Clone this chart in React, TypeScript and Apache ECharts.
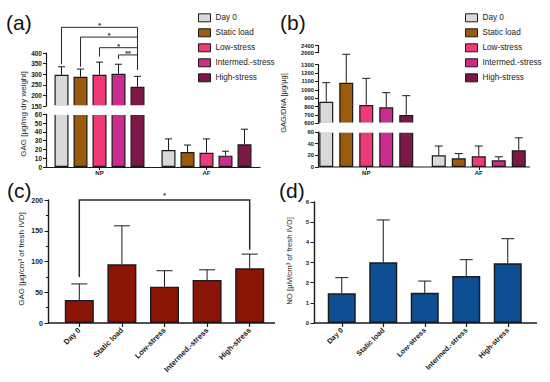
import React, { useEffect, useRef } from 'react';
import * as echarts from 'echarts';

const FONT = '"Liberation Sans", Arial, Helvetica, sans-serif';
const AX = '#1a1a1a';

const groups = ['Day 0', 'Static load', 'Low-stress', 'Intermed.-stress', 'High-stress'];
const regions = ['NP', 'AF'];
const groupColors = ['#d9d9d9', '#9a5b0c', '#ee3a78', '#cb2b8c', '#7b1848'];

// (a) GAG [µg/mg dry weight]
const aNPMean = [297, 288, 297, 302, 241];
const aNPUpper = [335, 324, 357, 347, 290];
const aAFMean = [19.4, 17, 16.3, 12.9, 25.8];
const aAFUpper = [32, 25, 32, 18, 43];
const aSigFrom = [0, 1, 2, 3];
const aSigTo = [4, 4, 4, 4];
const aSigLevel = [521, 475, 425, 391];
const aSigLeftDrop = [347, 335, 383, 372];
const aSigRightDrop = [320, 320, 320, 320];
const aSigLabel = ['*', '*', '*', '**'];

// (b) GAG/DNA [µg/µg]
const bNPMean = [858, 1085, 819, 791, 699];
const bNPUpper = [1085, 1910, 1137, 966, 930];
const bAFMean = [20, 15, 18.5, 11.5, 28.5];
const bAFUpper = [36, 23, 36, 17.5, 50];

// (c) GAG [µg/cm³ of fresh IVD]
const cMean = [37.5, 95.5, 59, 70, 89];
const cUpper = [63.5, 158, 85, 86.5, 112];
const cSigFrom = [0];
const cSigTo = [4];
const cSigLevel = [200];
const cSigLeftDrop = [75];
const cSigRightDrop = [119];
const cSigLabel = ['*'];

// (d) NO [µM/cm³ of fresh IVD]
const dMean = [1.47, 3.01, 1.5, 2.33, 2.96];
const dUpper = [2.25, 5.11, 2.08, 3.14, 4.18];

// axis ranges of broken-axis segments [min, max, interval]
const aUpperRange = [150, 400, 50];
const aLowerRange = [0, 60, 10];
const bTopRange = [2000, 2400, 400];
const bMidRange = [600, 1300, 100];
const bLowRange = [0, 60, 20];
const cRange = [0, 200, 50];
const dRange = [0, 6, 1];

const panelData: any = {
  a: { npMean: aNPMean, npUpper: aNPUpper, afMean: aAFMean, afUpper: aAFUpper },
  b: { npMean: bNPMean, npUpper: bNPUpper, afMean: bAFMean, afUpper: bAFUpper },
};

const panelLayout: any = {
  a: { left: 46, width: 214, yOffset: 0, barWidth: 14, gap: 5, cap: 7, labelSize: 6.5, axisLine: true, coverStart: 3 },
  b: { left: 310, width: 225, yOffset: -8, barWidth: 14, gap: 6, cap: 8, labelSize: 5.8, axisLine: false, coverStart: 9.5 },
};

const segments = [
  { panel: 'a', top: 53, height: 53, range: aUpperRange, belowMax: aLowerRange[1], gapBelow: 8.3, bottom: false, cover: true },
  { panel: 'a', top: 114.3, height: 52.7, range: aLowerRange, belowMax: -Infinity, gapBelow: 0, bottom: true, cover: false },
  { panel: 'b', top: 45.7, height: 7, range: bTopRange, belowMax: bMidRange[1], gapBelow: 12, bottom: false, cover: false },
  { panel: 'b', top: 64.7, height: 58.6, range: bMidRange, belowMax: bLowRange[1], gapBelow: 8.7, bottom: false, cover: true },
  { panel: 'b', top: 132, height: 35, range: bLowRange, belowMax: -Infinity, gapBelow: 0, bottom: true, cover: false },
];

function errRender(min: number, max: number, belowMax: number, gapBelow: number, xShift: number, cap: number) {
  return (params: any, api: any) => {
    const cat = api.value(0);
    const m = api.value(1);
    const u = api.value(2);
    if (m > max) return null;
    if (u <= belowMax) return null;
    const cs = params.coordSys;
    const x = api.coord([cat, min])[0] + xShift;
    const yBase = m < min ? cs.y + cs.height + gapBelow : api.coord([cat, m])[1];
    const yTop = u > max ? cs.y : api.coord([cat, u])[1];
    const st = { stroke: AX, lineWidth: 1 };
    const children: any[] = [{ type: 'line', shape: { x1: x, y1: yBase, x2: x, y2: yTop }, style: st }];
    if (u <= max) {
      children.push({ type: 'line', shape: { x1: x - cap / 2, y1: yTop, x2: x + cap / 2, y2: yTop }, style: st });
    }
    return { type: 'group', children };
  };
}

function coverRender(start: number, gapBelow: number) {
  return (params: any) => {
    const cs = params.coordSys;
    return {
      type: 'rect',
      silent: true,
      shape: { x: cs.x + start, y: cs.y + cs.height - 0.8, width: cs.width - start + 2, height: gapBelow + 1.6 },
      style: { fill: '#ffffff' },
    };
  };
}

function sigRender(labels: string[], step: number, lw: number, fs: number, dy: number) {
  return (params: any, api: any) => {
    const k = params.dataIndex;
    const cat = api.value(0);
    const lvl = api.value(1);
    const f = api.value(2);
    const t = api.value(3);
    const ld = api.value(4);
    const rd = api.value(5);
    let xL: number, xR: number;
    if (step > 0) {
      const cx = api.coord([cat, lvl])[0];
      xL = cx + (f - 2) * step;
      xR = cx + (t - 2) * step;
    } else {
      xL = api.coord([f, lvl])[0];
      xR = api.coord([t, lvl])[0];
    }
    const yL = api.coord([cat, lvl])[1];
    const yLD = api.coord([cat, ld])[1];
    const yRD = api.coord([cat, rd])[1];
    return {
      type: 'group',
      children: [
        {
          type: 'polyline',
          shape: { points: [[xL, yLD], [xL, yL], [xR, yL], [xR, yRD]] },
          style: { stroke: '#2a2a2a', lineWidth: lw, fill: null },
        },
        {
          type: 'text',
          x: (xL + xR) / 2,
          y: yL + dy,
          style: { text: labels[k], fontSize: fs, fontFamily: FONT, fontWeight: 'bold', fill: '#222', align: 'center', verticalAlign: 'middle' },
        },
      ],
    };
  };
}

const plain = (v: number) => String(v);

function buildOption() {
  const grid: any[] = [];
  const xAxis: any[] = [];
  const yAxis: any[] = [];
  const series: any[] = [];

  segments.forEach((seg, g) => {
    const P = panelLayout[seg.panel];
    const D = panelData[seg.panel];
    const [min, max, interval] = seg.range;
    grid.push({ left: P.left, top: seg.top, width: P.width, height: seg.height });
    xAxis.push({
      type: 'category', gridIndex: g, data: regions, show: seg.bottom,
      axisLine: { show: P.axisLine, onZero: false, lineStyle: { color: AX, width: 1.2 } },
      axisTick: { show: true, alignWithLabel: true, length: 3, lineStyle: { color: AX, width: 1 } },
      axisLabel: { fontSize: 6, fontWeight: 'bold', fontFamily: FONT, color: AX, margin: 3 },
      splitLine: { show: false },
    });
    yAxis.push({
      type: 'value', gridIndex: g, min, max, interval, offset: P.yOffset,
      axisLine: { show: true, lineStyle: { color: AX, width: 1.2 } },
      axisTick: { show: true, length: 3, lineStyle: { color: AX, width: 1 } },
      axisLabel: { fontSize: P.labelSize, fontWeight: 'bold', fontFamily: FONT, color: AX, margin: 4, formatter: plain },
      splitLine: { show: false },
    });
    groups.forEach((name, i) => {
      const vals = [D.npMean[i], D.afMean[i]];
      series.push({
        type: 'bar', name, xAxisIndex: g, yAxisIndex: g,
        barWidth: P.barWidth, barGap: (P.gap / P.barWidth) * 100 + '%',
        data: vals.map((v: number) => (v >= min ? v : '-')),
        itemStyle: { color: groupColors[i], borderColor: AX, borderWidth: 1.2 },
        clip: true, z: 2,
      });
    });
    groups.forEach((_name, i) => {
      series.push({
        type: 'custom', xAxisIndex: g, yAxisIndex: g, z: 3,
        data: [[0, D.npMean[i], D.npUpper[i]], [1, D.afMean[i], D.afUpper[i]]],
        renderItem: errRender(min, max, seg.belowMax, seg.gapBelow, (i - 2) * (P.barWidth + P.gap), P.cap),
      });
    });
    if (seg.cover) {
      series.push({
        type: 'custom', xAxisIndex: g, yAxisIndex: g, z: 20, silent: true,
        data: [[0, min]],
        renderItem: coverRender(P.coverStart, seg.gapBelow),
      });
    }
  });

  // significance brackets (a) on upper segment grid 0
  series.push({
    type: 'custom', xAxisIndex: 0, yAxisIndex: 0, z: 4, encode: { x: 0, y: 1 },
    data: aSigFrom.map((f, k) => [0, aSigLevel[k], f, aSigTo[k], aSigLeftDrop[k], aSigRightDrop[k]]),
    renderItem: sigRender(aSigLabel, panelLayout.a.barWidth + panelLayout.a.gap, 1, 7, -1.5),
  });

  // (c)
  const gc = grid.length;
  grid.push({ left: 58, top: 200, width: 213, height: 123 });
  xAxis.push({
    type: 'category', gridIndex: gc, data: groups,
    axisLine: { show: false },
    axisTick: { show: true, alignWithLabel: true, length: 4, lineStyle: { color: AX, width: 1.2 } },
    axisLabel: { rotate: 45, interval: 0, fontSize: 7.6, fontWeight: 'bold', fontFamily: FONT, color: AX, margin: 6 },
  });
  yAxis.push({
    type: 'value', gridIndex: gc, min: cRange[0], max: cRange[1], interval: cRange[2], offset: 10,
    axisLine: { show: true, lineStyle: { color: AX, width: 1.4 } },
    axisTick: { show: true, length: 3.5, lineStyle: { color: AX, width: 1 } },
    minorTick: { show: true, splitNumber: 2, length: 2, lineStyle: { color: AX, width: 1 } },
    axisLabel: { fontSize: 7, fontWeight: 'bold', fontFamily: FONT, color: AX, margin: 5, formatter: plain },
    splitLine: { show: false },
  });
  series.push({
    type: 'bar', name: 'GAG per IVD', xAxisIndex: gc, yAxisIndex: gc, barWidth: 29, data: cMean,
    itemStyle: { color: '#8a1506', borderColor: AX, borderWidth: 1.4 }, z: 2,
  });
  series.push({
    type: 'custom', xAxisIndex: gc, yAxisIndex: gc, z: 3,
    data: cMean.map((m, i) => [i, m, cUpper[i]]),
    renderItem: errRender(cRange[0], cRange[1], -Infinity, 0, 0, 16),
  });
  series.push({
    type: 'custom', xAxisIndex: gc, yAxisIndex: gc, z: 4, encode: { x: 0, y: 1 },
    data: cSigFrom.map((f, k) => [f, cSigLevel[k], f, cSigTo[k], cSigLeftDrop[k], cSigRightDrop[k]]),
    renderItem: sigRender(cSigLabel, 0, 1.5, 6.5, -4.5),
  });

  // (d)
  const gd = grid.length;
  grid.push({ left: 321, top: 202, width: 207.5, height: 121 });
  xAxis.push({
    type: 'category', gridIndex: gd, data: groups,
    axisLine: { show: false },
    axisTick: { show: true, alignWithLabel: true, length: 4, lineStyle: { color: AX, width: 1.2 } },
    axisLabel: { rotate: 45, interval: 0, fontSize: 7.2, fontWeight: 'bold', fontFamily: FONT, color: AX, margin: 6 },
  });
  yAxis.push({
    type: 'value', gridIndex: gd, min: dRange[0], max: dRange[1], interval: dRange[2], offset: 7,
    axisLine: { show: true, lineStyle: { color: AX, width: 1.4 } },
    axisTick: { show: true, length: 3.5, lineStyle: { color: AX, width: 1 } },
    axisLabel: { fontSize: 6, fontWeight: 'bold', fontFamily: FONT, color: AX, margin: 5, formatter: plain },
    splitLine: { show: false },
  });
  series.push({
    type: 'bar', name: 'NO per IVD', xAxisIndex: gd, yAxisIndex: gd, barWidth: 28, data: dMean,
    itemStyle: { color: '#0e4f94', borderColor: AX, borderWidth: 1.4 }, z: 2,
  });
  series.push({
    type: 'custom', xAxisIndex: gd, yAxisIndex: gd, z: 3,
    data: dMean.map((m, i) => [i, m, dUpper[i]]),
    renderItem: errRender(dRange[0], dRange[1], -Infinity, 0, 0, 13),
  });

  const legendBase = {
    orient: 'vertical', top: 13.3, itemWidth: 12, itemHeight: 8, itemGap: 6, padding: 0,
    icon: 'rect', selectedMode: false, data: groups,
    itemStyle: { borderColor: AX, borderWidth: 1 },
    textStyle: { fontSize: 8.2, fontFamily: FONT, color: '#222', lineHeight: 8 },
  };

  const titleText = (text: string, x: number, y: number, fs: number) => ({
    type: 'text', x, y, rotation: Math.PI / 2,
    style: { text, fontSize: fs, fontFamily: FONT, fill: '#222', align: 'center', verticalAlign: 'middle' },
  });
  const panelLabel = (text: string, x: number, y: number) => ({
    type: 'text', x, y,
    style: { text, fontSize: 21, fontFamily: FONT, fill: '#111', align: 'left', verticalAlign: 'middle' },
  });
  const hLine = (x1: number, x2: number, y: number, w: number) => ({
    type: 'line', z: 50, shape: { x1, y1: y, x2, y2: y }, style: { stroke: AX, lineWidth: w },
  });

  return {
    animation: false,
    backgroundColor: '#ffffff',
    grid, xAxis, yAxis, series,
    legend: [{ ...legendBase, left: 198 }, { ...legendBase, left: 465 }],
    graphic: [
      hLine(318, 530, 167, 1.2),
      hLine(48, 275, 323, 1.4),
      hLine(314, 537, 323, 1.4),
      titleText('GAG [µg/mg dry weight]', 23, 114, 8),
      titleText('GAG/DNA [µg/µg]', 283, 103, 7.5),
      titleText('GAG [µg/cm³ of fresh IVD]', 21, 259, 8),
      titleText('NO [µM/cm³ of fresh IVD]', 289, 261, 7.8),
      panelLabel('(a)', 6, 22),
      panelLabel('(b)', 280, 22),
      panelLabel('(c)', 7, 190),
      panelLabel('(d)', 279, 190),
    ],
  };
}

export default function App() {
  const ref = useRef<HTMLDivElement>(null);
  useEffect(() => {
    const chart = echarts.init(ref.current as HTMLDivElement, null, { renderer: 'svg' });
    chart.setOption(buildOption() as any);
    return () => chart.dispose();
  }, []);
  return (
    <div
      ref={ref}
      style={{ position: 'fixed', left: 0, top: 0, width: 550, height: 382, background: '#fff' }}
    />
  );
}
